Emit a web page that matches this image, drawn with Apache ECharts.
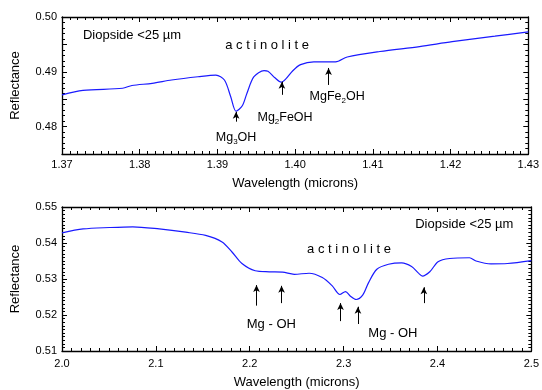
<!DOCTYPE html>
<html>
<head>
<meta charset="utf-8">
<script src="https://cdn.jsdelivr.net/npm/echarts@6/dist/echarts.min.js"></script>
<style>
  html, body { margin: 0; padding: 0; background: #fff; }
  #chart { width: 542px; height: 390px; }
</style>
</head>
<body>
<div id="chart"></div>
<script>
// top panel: 1.37 - 1.43 microns
const topWave = [1.3700, 1.3727, 1.3778, 1.3790, 1.3816, 1.3841, 1.3875, 1.3898, 1.3909, 1.3917,
  1.3924, 1.3932, 1.3938, 1.3947, 1.3960, 1.3965, 1.3974, 1.3982, 1.3988, 1.3997,
  1.4007, 1.4024, 1.4052, 1.4067, 1.4109, 1.4160, 1.4202, 1.4257, 1.4300];
const topRefl = [0.4858, 0.4866, 0.4870, 0.4875, 0.4879, 0.4885, 0.4891, 0.4894, 0.4885, 0.4855,
  0.4828, 0.4838, 0.4861, 0.4891, 0.4902, 0.4901, 0.4889, 0.4881, 0.4887, 0.4902,
  0.4913, 0.4918, 0.4918, 0.4927, 0.4937, 0.4946, 0.4955, 0.4965, 0.4973];

// bottom panel: 2.0 - 2.5 microns
const botWave = [2.000, 2.0225, 2.0507, 2.0754, 2.1036, 2.1318, 2.1530, 2.1705, 2.1811, 2.1917,
  2.2058, 2.2209, 2.2350, 2.2474, 2.2632, 2.2773, 2.2879, 2.2960, 2.3020, 2.3073,
  2.3133, 2.3203, 2.3266, 2.3354, 2.3478, 2.3618, 2.3724, 2.3795, 2.3840, 2.3918,
  2.4006, 2.4130, 2.4341, 2.4411, 2.4570, 2.4746, 2.5000];
const botRefl = [0.5428, 0.5439, 0.5443, 0.5445, 0.5439, 0.5430, 0.5421, 0.5403, 0.5375, 0.5343,
  0.5323, 0.5320, 0.5319, 0.5313, 0.5316, 0.5304, 0.5281, 0.5257, 0.5265, 0.5252,
  0.5243, 0.5255, 0.5290, 0.5327, 0.5341, 0.5345, 0.5335, 0.5317, 0.5308, 0.5320,
  0.5348, 0.5357, 0.5359, 0.5350, 0.5342, 0.5343, 0.5351];

// arrows: x, from y, to y (tip)
const topArrowX = [1.3924, 1.3983, 1.4043];
const topArrowFrom = [0.4809, 0.4858, 0.4876];
const topArrowTo = [0.4827, 0.4882, 0.4907];
const botArrowX = [2.2072, 2.2339, 2.2967, 2.3153, 2.3855];
const botArrowFrom = [0.5226, 0.5233, 0.5183, 0.5175, 0.5233];
const botArrowTo = [0.5283, 0.5281, 0.5233, 0.5223, 0.5277];

// labels: text (rich), x, y, align
const topLabels = [
  ['{n|Diopside <25 \u00b5m}', 1.3727, 0.4967, 'left'],
  ['{n|a c t i n o l i t e}', 1.3910, 0.4949, 'left'],
  ['{m|Mg}{s|3}{m|OH}', 1.3924, 0.4780, 'center'],
  ['{m|Mg}{s|2}{m|FeOH}', 1.3987, 0.4816, 'center'],
  ['{m|MgFe}{s|2}{m|OH}', 1.4054, 0.4855, 'center']
];
const botLabels = [
  ['{n|Diopside <25 \u00b5m}', 2.3763, 0.5452, 'left'],
  ['{n|a c t i n o l i t e}', 2.2611, 0.5383, 'left'],
  ['{n|Mg - OH}', 2.2230, 0.5175, 'center'],
  ['{n|Mg - OH}', 2.3525, 0.5148, 'center']
];

const FONT = 'Liberation Sans, Arial, sans-serif';

function pairs(xs, ys) {
  return xs.map((x, i) => [x, ys[i]]);
}

function arrows(xs, from, to) {
  return xs.map((x, i) => [{ coord: [x, from[i]] }, { coord: [x, to[i]] }]);
}

// one axis: main axes carry labels/name, "minor" axes only draw the short ticks
function axis(dim, grid, pos, min, max, interval, opts) {
  const o = opts || {};
  const ax = {
    type: 'value', gridIndex: grid, position: pos, min: min, max: max, interval: interval,
    axisLine: { show: !o.minor, onZero: false, lineStyle: { color: '#000', width: 1.3 } },
    axisTick: { show: true, inside: true, length: o.minor ? 3 : 5, lineStyle: { color: '#000', width: 1 } },
    splitLine: { show: false },
    axisLabel: { show: false }
  };
  if (o.label) {
    ax.axisLabel = {
      show: true, margin: o.margin || 5, fontFamily: FONT, fontSize: 11, color: '#000',
      formatter: o.label
    };
    ax.name = dim === 'x' ? 'Wavelength (microns)' : 'Reflectance';
    ax.nameLocation = 'middle';
    ax.nameGap = o.gap;
    if (dim === 'y') ax.nameRotate = 90;
    ax.nameTextStyle = { fontFamily: FONT, fontSize: 13, color: '#000' };
  }
  return ax;
}

const fmt2 = v => v.toFixed(2);
const fmt1 = v => v.toFixed(1);
const fmtTopY = v => (Math.round(v * 1000) % 10 !== 0 ? '' : v.toFixed(2));

const xAxes = [
  axis('x', 0, 'bottom', 1.37, 1.43, 0.01, { label: fmt2, margin: 5, gap: 23 }),
  axis('x', 1, 'bottom', 2.0, 2.5, 0.1, { label: fmt1, margin: 7, gap: 25 }),
  axis('x', 0, 'top', 1.37, 1.43, 0.01),
  axis('x', 1, 'top', 2.0, 2.5, 0.1),
  axis('x', 0, 'bottom', 1.37, 1.43, 0.001, { minor: true }),
  axis('x', 0, 'top', 1.37, 1.43, 0.001, { minor: true }),
  axis('x', 1, 'bottom', 2.0, 2.5, 0.01, { minor: true }),
  axis('x', 1, 'top', 2.0, 2.5, 0.01, { minor: true })
];
const yAxes = [
  axis('y', 0, 'left', 0.475, 0.50, 0.005, { label: fmtTopY, gap: 40 }),
  axis('y', 1, 'left', 0.51, 0.55, 0.01, { label: fmt2, gap: 40 }),
  axis('y', 0, 'right', 0.475, 0.50, 0.005),
  axis('y', 1, 'right', 0.51, 0.55, 0.01),
  axis('y', 0, 'left', 0.475, 0.50, 0.001, { minor: true }),
  axis('y', 0, 'right', 0.475, 0.50, 0.001, { minor: true }),
  axis('y', 1, 'left', 0.51, 0.55, 0.001, { minor: true }),
  axis('y', 1, 'right', 0.51, 0.55, 0.001, { minor: true })
];

const arrowLine = {
  silent: true,
  symbol: ['none', 'arrow'],
  symbolSize: [5, 7],
  label: { show: false },
  lineStyle: { color: '#000', width: 1, type: 'solid' }
};

const chart = echarts.init(document.getElementById('chart'), null, { renderer: 'canvas' });

chart.setOption({
  animation: false,
  backgroundColor: '#fff',
  grid: [
    { left: 62, right: 7, top: 17, height: 137 },
    { left: 62, right: 7, top: 207, height: 150 }
  ],
  xAxis: xAxes,
  yAxis: yAxes,
  series: [
    {
      type: 'line', xAxisIndex: 0, yAxisIndex: 0, data: pairs(topWave, topRefl),
      showSymbol: false, smooth: 0.3, lineStyle: { color: '#1a1aff', width: 1.2 },
      markLine: Object.assign({ data: arrows(topArrowX, topArrowFrom, topArrowTo) }, arrowLine)
    },
    {
      type: 'line', xAxisIndex: 1, yAxisIndex: 1, data: pairs(botWave, botRefl),
      showSymbol: false, smooth: 0.3, lineStyle: { color: '#1a1aff', width: 1.2 },
      markLine: Object.assign({ data: arrows(botArrowX, botArrowFrom, botArrowTo) }, arrowLine)
    }
  ]
});

// text annotations placed from data coordinates
const rich = {
  n: { fontFamily: FONT, fontSize: 13, color: '#000', lineHeight: 16 },
  m: { fontFamily: FONT, fontSize: 12.5, color: '#000', lineHeight: 16 },
  s: { fontFamily: FONT, fontSize: 8, color: '#000', lineHeight: 16, verticalAlign: 'bottom', padding: [7, 0, 0, 0] }
};
function textEls(labels, grid) {
  return labels.map(l => {
    const p = chart.convertToPixel({ gridIndex: grid }, [l[1], l[2]]);
    return {
      type: 'text', x: p[0], y: p[1], silent: true,
      style: { text: l[0], rich: rich, align: l[3], verticalAlign: 'middle' }
    };
  });
}
chart.setOption({ graphic: textEls(topLabels, 0).concat(textEls(botLabels, 1)) });
</script>
</body>
</html>
